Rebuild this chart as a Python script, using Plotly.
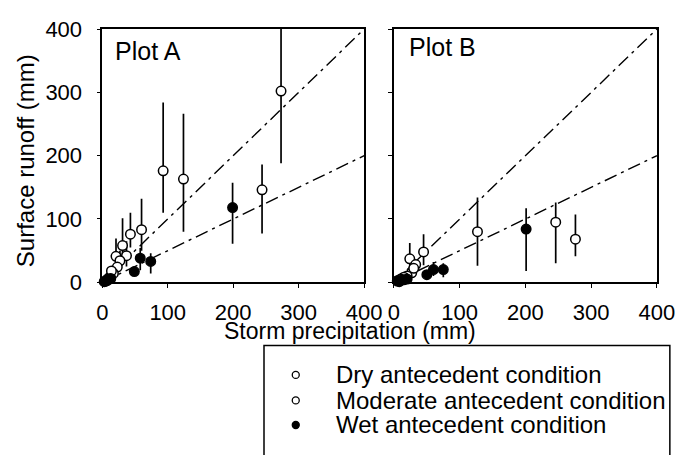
import plotly.graph_objects as go

# ---------------- data ----------------
# Plot A
a_dry_x = [93, 124, 273, 244, 60, 43]
a_dry_y = [176, 163, 302, 146, 83, 76]
a_dry_lo = [110, 80, 188, 77, 50, 55]
a_dry_hi = [284, 266, 400, 186, 132, 110]

a_mod_x = [31, 37, 21, 27, 23, 17, 12, 8, 5, 14]
a_mod_y = [58, 42, 41, 34, 24, 14, 9, 5, 2, 18]
a_mod_lo = [40, 25, 25, 20, 15, 8, 9, 5, 2, 18]
a_mod_hi = [101, 65, 69, 50, 35, 22, 9, 5, 2, 18]

a_wet_x = [199, 58, 74, 49, 5, 8, 10, 3, 13]
a_wet_y = [118, 38, 33, 17, 2, 3, 5, 1, 6]
a_wet_lo = [61, 19, 14, 10, 2, 3, 5, 1, 6]
a_wet_hi = [157, 54, 46, 24, 2, 3, 5, 1, 6]

# Plot B
b_dry_x = [127, 246, 276, 45, 24]
b_dry_y = [80, 95, 68, 48, 37]
b_dry_lo = [26, 30, 41, 27, 20]
b_dry_hi = [134, 126, 107, 76, 62]

b_mod_x = [33, 27, 20, 15, 10, 30, 6]
b_mod_y = [28, 15, 10, 8, 5, 22, 3]
b_mod_lo = [28, 15, 10, 8, 5, 22, 3]
b_mod_hi = [28, 15, 10, 8, 5, 22, 3]

b_wet_x = [201, 75, 60, 50, 5, 10, 15, 20, 8]
b_wet_y = [84, 20, 20, 12, 2, 3, 4, 5, 1]
b_wet_lo = [18, 8, 10, 6, 2, 3, 4, 5, 1]
b_wet_hi = [117, 30, 32, 18, 2, 3, 4, 5, 1]

# reference lines (1:1 and 1:2)
line_x = [0, 400]
line_1to1 = [0, 400]
line_1to2 = [0, 200]

tick_vals = [0, 100, 200, 300, 400]
legend_names = ["Dry antecedent condition",
                "Moderate antecedent condition",
                "Wet antecedent condition"]
legend_filled = [False, False, True]

FONT = "Liberation Sans, Arial, sans-serif"
W, H = 696, 455


def fx(px):
    """horizontal pixel -> paper fraction (calibrated to the rendered width)"""
    return (px - 2) / 0.973 / W


def fy(py):
    """vertical pixel from top -> paper fraction"""
    return 1 - py / H


fig = go.Figure()


def add_points(x, y, lo, hi, filled, xa, ya):
    fig.add_trace(go.Scatter(
        x=x, y=y, mode="markers", xaxis=xa, yaxis=ya, showlegend=False,
        cliponaxis=False,
        marker=dict(size=9.5, symbol="circle",
                    color="black" if filled else "white",
                    line=dict(color="black", width=1.5)),
        error_y=dict(type="data", symmetric=False,
                     array=[h - v for h, v in zip(hi, y)],
                     arrayminus=[v - l for v, l in zip(y, lo)],
                     color="black", thickness=1.7, width=0),
    ))


for xa, ya in (("x", "y"), ("x2", "y2")):
    for ly in (line_1to1, line_1to2):
        fig.add_trace(go.Scatter(
            x=line_x, y=ly, mode="lines", xaxis=xa, yaxis=ya, showlegend=False,
            line=dict(color="black", width=1.4, dash="13px,5px,3px,5px"),
        ))

add_points(a_dry_x, a_dry_y, a_dry_lo, a_dry_hi, False, "x", "y")
add_points(a_mod_x, a_mod_y, a_mod_lo, a_mod_hi, False, "x", "y")
add_points(a_wet_x, a_wet_y, a_wet_lo, a_wet_hi, True, "x", "y")
add_points(b_dry_x, b_dry_y, b_dry_lo, b_dry_hi, False, "x2", "y2")
add_points(b_mod_x, b_mod_y, b_mod_lo, b_mod_hi, False, "x2", "y2")
add_points(b_wet_x, b_wet_y, b_wet_lo, b_wet_hi, True, "x2", "y2")

axis_common = dict(range=[0, 400], tickvals=tick_vals, showline=True,
                   linecolor="black", linewidth=1.5, mirror=True,
                   ticks="outside", ticklen=4, tickwidth=1, tickcolor="black",
                   showgrid=False, zeroline=False,
                   tickfont=dict(family=FONT, size=22, color="black"))

# ---- key box drawn by hand (the key runs past the bottom edge) ----
box_left, box_right, box_top = 262, 671, 353
row_y = [384, 411, 437]
mark_x, text_x = 294, 333

shapes = [dict(type="rect", xref="paper", yref="paper",
               x0=fx(box_left), x1=fx(box_right), y0=-0.2, y1=fy(box_top),
               line=dict(color="black", width=1.5), fillcolor="white",
               layer="below")]
annotations = []
for name, filled, ry in zip(legend_names, legend_filled, row_y):
    shapes.append(dict(type="circle", xref="paper", yref="paper",
                       xsizemode="pixel", ysizemode="pixel",
                       xanchor=fx(mark_x), yanchor=fy(ry),
                       x0=-3.5, x1=3.5, y0=-3.5, y1=3.5,
                       line=dict(color="black", width=1.3),
                       fillcolor="black" if filled else "white"))
    annotations.append(dict(text=name, xref="paper", yref="paper",
                            x=fx(text_x), y=fy(ry), xanchor="left",
                            yanchor="middle", showarrow=False,
                            font=dict(family=FONT, size=24, color="black")))

annotations += [
    dict(text="Plot A", xref="paper", yref="paper", x=fx(110), y=fy(41),
         xanchor="left", yanchor="middle", showarrow=False,
         font=dict(family=FONT, size=25, color="black")),
    dict(text="Plot B", xref="paper", yref="paper", x=fx(406), y=fy(37),
         xanchor="left", yanchor="middle", showarrow=False,
         font=dict(family=FONT, size=25, color="black")),
    dict(text="Surface runoff (mm)", xref="paper", yref="paper",
         x=fx(22), y=fy(157), xanchor="center", yanchor="middle",
         textangle=-90, showarrow=False,
         font=dict(family=FONT, size=24, color="black")),
    dict(text="Storm precipitation (mm)", xref="paper", yref="paper",
         x=fx(349), y=fy(338), xanchor="center", yanchor="middle",
         showarrow=False, font=dict(family=FONT, size=23, color="black")),
]

fig.update_layout(
    width=W, height=H, autosize=False,
    margin=dict(l=0, r=0, t=0, b=0),
    paper_bgcolor="white", plot_bgcolor="white",
    font=dict(family=FONT, color="black"),
    showlegend=False,
    xaxis=dict(domain=[fx(99), fx(363)], anchor="y", ticklabelstandoff=6,
               **axis_common),
    yaxis=dict(domain=[fy(286), fy(18)], anchor="x",
               ticklabelstandoff=10, **axis_common),
    xaxis2=dict(domain=[fx(393), fx(658)], anchor="y2", ticklabelstandoff=6,
                **axis_common),
    yaxis2=dict(domain=[fy(286), fy(18)], anchor="x2",
                showticklabels=False,
                **{k: v for k, v in axis_common.items() if k != "tickfont"}),
    shapes=shapes,
    annotations=annotations,
)

fig.write_html("out.html")
